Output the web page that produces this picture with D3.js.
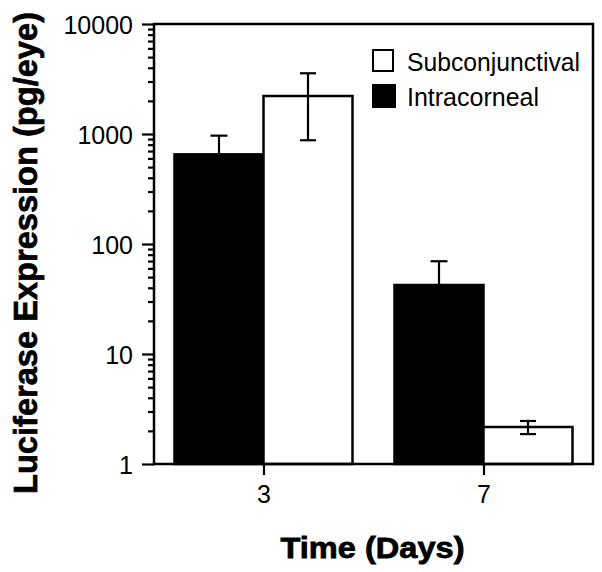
<!DOCTYPE html>
<html><head><meta charset="utf-8">
<script src="https://cdn.jsdelivr.net/npm/d3@7"></script>
<style>body{margin:0;background:#fff}svg{display:block}text{font-family:"Liberation Sans",Arial,Helvetica,sans-serif}</style>
</head><body><svg id="c" width="602" height="572"></svg>
<script>
const categories = ["3", "7"];
const seriesNames = ["Subconjunctival", "Intracorneal"];
const intracorneal = [653, 42.4];
const intracornealHi = [966, 69.7];
const intracornealLo = [340, 15];
const subconjunctival = [2215, 2.17];
const subconjunctivalHi = [3565, 2.46];
const subconjunctivalLo = [877, 1.87];
const yTicks = [1, 10, 100, 1000, 10000];
const yLabel = "Luciferase Expression (pg/eye)";
const xLabel = "Time (Days)";

const svg = d3.select("#c");
const L = 154, R = 593, T = 24, B = 464;
const y = d3.scaleLog().domain([1, 10000]).range([B, T]);
const x = d3.scalePoint().domain(categories).range([L, R]).padding(0.4977);
const bw = 89;

// bars
const g = svg.append("g");
categories.forEach((c, i) => {
  const cx = x(c);
  g.append("rect").attr("x", cx - bw).attr("y", y(intracorneal[i])).attr("width", bw)
    .attr("height", y(1) - y(intracorneal[i])).attr("fill", "#000").attr("stroke", "#000").attr("stroke-width", 2.5);
  g.append("rect").attr("x", cx).attr("y", y(subconjunctival[i])).attr("width", bw)
    .attr("height", y(1) - y(subconjunctival[i])).attr("fill", "#fff").attr("stroke", "#000").attr("stroke-width", 2.5);
});
// error bars
function err(cx, lo, hi, cap) {
  g.append("line").attr("x1", cx).attr("x2", cx).attr("y1", y(lo)).attr("y2", y(hi)).attr("stroke", "#000").attr("stroke-width", 2.2);
  [lo, hi].forEach(v => g.append("line").attr("x1", cx - cap / 2).attr("x2", cx + cap / 2).attr("y1", y(v)).attr("y2", y(v)).attr("stroke", "#000").attr("stroke-width", 2.2));
}
categories.forEach((c, i) => {
  const cx = x(c);
  err(cx - bw / 2, intracornealLo[i], intracornealHi[i], 17);
  err(cx + bw / 2, subconjunctivalLo[i], subconjunctivalHi[i], 16);
});

// frame
svg.append("rect").attr("x", L).attr("y", T).attr("width", R - L).attr("height", B - T)
  .attr("fill", "none").attr("stroke", "#000").attr("stroke-width", 2.5);

// y axis
const minor = [];
for (let d = 1; d < 10000; d *= 10) for (let k = 2; k <= 9; k++) minor.push(d * k);
const ya = svg.append("g").attr("transform", `translate(${L},0)`)
  .call(d3.axisLeft(y).tickValues(yTicks).tickSize(12).tickFormat(d3.format("d")).tickPadding(9));
const ym = svg.append("g").attr("transform", `translate(${L},0)`)
  .call(d3.axisLeft(y).tickValues(minor).tickSize(6).tickFormat(""));
[ya, ym].forEach(a => { a.select(".domain").remove(); a.selectAll("line").attr("stroke", "#000").attr("stroke-width", 2.2); });
ya.selectAll("text").attr("font-size", 25).attr("fill", "#000").attr("dy", "0.36em");

// x axis
const xa = svg.append("g").attr("transform", `translate(0,${B})`)
  .call(d3.axisBottom(x).tickSize(11).tickPadding(10));
xa.select(".domain").remove();
xa.selectAll("line").attr("stroke", "#000").attr("stroke-width", 2.2);
xa.selectAll("text").attr("font-size", 25).attr("fill", "#000");

// axis titles
svg.append("text").attr("transform", "translate(37,253) rotate(-90)").attr("text-anchor", "middle")
  .attr("font-size", 33).attr("font-weight", "bold").attr("stroke", "#000").attr("stroke-width", 0.7)
  .attr("textLength", 482).attr("lengthAdjust", "spacingAndGlyphs").text(yLabel);
svg.append("text").attr("x", 372.5).attr("y", 558).attr("text-anchor", "middle")
  .attr("font-size", 30).attr("font-weight", "bold").attr("stroke", "#000").attr("stroke-width", 0.8)
  .attr("textLength", 184).attr("lengthAdjust", "spacingAndGlyphs").text(xLabel);

// legend
const lg = svg.append("g");
lg.append("rect").attr("x", 373).attr("y", 50).attr("width", 20).attr("height", 21)
  .attr("fill", "#fff").attr("stroke", "#000").attr("stroke-width", 2);
lg.append("rect").attr("x", 372).attr("y", 84).attr("width", 24).attr("height", 24).attr("fill", "#000");
lg.append("text").attr("x", 407).attr("y", 71).attr("font-size", 25).attr("textLength", 173).attr("lengthAdjust", "spacingAndGlyphs").text(seriesNames[0]);
lg.append("text").attr("x", 407).attr("y", 106).attr("font-size", 25).text(seriesNames[1]);
</script></body></html>
